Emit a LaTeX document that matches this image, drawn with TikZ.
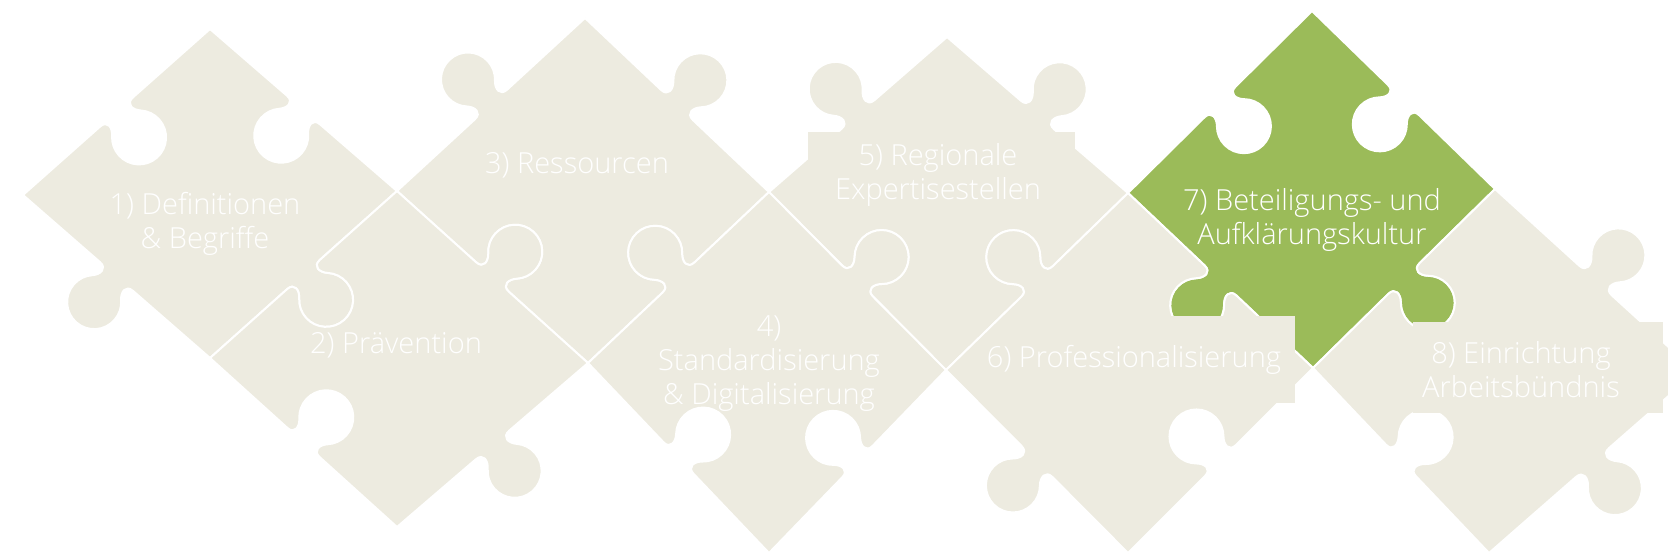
\documentclass[tikz,border=0pt]{standalone}
\usepackage{fontspec}
\IfFontExistsTF{Open Sans Light}{\setmainfont{Open Sans Light}}{\setmainfont{Open Sans}}
\usetikzlibrary{calc}
\definecolor{sand}{RGB}{237,235,224}
\definecolor{leaf}{RGB}{155,187,89}

\tikzset{
  % one puzzle edge with a round tab at its middle; #1 = 90 bulges outwards, -90 inwards
  tab/.style={to path={
    -- ($(\tikztostart)!0.5!(\tikztotarget)!-22pt!(\tikztotarget)$)
    .. controls ($(\tikztostart)!0.5!(\tikztotarget)!-12pt!(\tikztotarget)$)
       and ($(\tikztostart)!0.5!(\tikztotarget)!-13.4pt!(\tikztotarget)!9.2pt!#1:(\tikztotarget)$)
    .. ($(\tikztostart)!0.5!(\tikztotarget)!-19.1pt!(\tikztotarget)!14.9pt!#1:(\tikztotarget)$)
    .. controls ($(\tikztostart)!0.5!(\tikztotarget)!-24.2pt!(\tikztotarget)!20pt!#1:(\tikztotarget)$)
       and ($(\tikztostart)!0.5!(\tikztotarget)!-27pt!(\tikztotarget)!26.8pt!#1:(\tikztotarget)$)
    .. ($(\tikztostart)!0.5!(\tikztotarget)!-27pt!(\tikztotarget)!34pt!#1:(\tikztotarget)$)
    .. controls ($(\tikztostart)!0.5!(\tikztotarget)!-27pt!(\tikztotarget)!48.9pt!#1:(\tikztotarget)$)
       and ($(\tikztostart)!0.5!(\tikztotarget)!-14.9pt!(\tikztotarget)!61pt!#1:(\tikztotarget)$)
    .. ($(\tikztostart)!0.5!(\tikztotarget)!0pt!(\tikztotarget)!61pt!#1:(\tikztotarget)$)
    .. controls ($(\tikztostart)!0.5!(\tikztotarget)!14.9pt!(\tikztotarget)!61pt!#1:(\tikztotarget)$)
       and ($(\tikztostart)!0.5!(\tikztotarget)!27pt!(\tikztotarget)!48.9pt!#1:(\tikztotarget)$)
    .. ($(\tikztostart)!0.5!(\tikztotarget)!27pt!(\tikztotarget)!34pt!#1:(\tikztotarget)$)
    .. controls ($(\tikztostart)!0.5!(\tikztotarget)!27pt!(\tikztotarget)!26.8pt!#1:(\tikztotarget)$)
       and ($(\tikztostart)!0.5!(\tikztotarget)!24.2pt!(\tikztotarget)!20pt!#1:(\tikztotarget)$)
    .. ($(\tikztostart)!0.5!(\tikztotarget)!19.1pt!(\tikztotarget)!14.9pt!#1:(\tikztotarget)$)
    .. controls ($(\tikztostart)!0.5!(\tikztotarget)!13.4pt!(\tikztotarget)!9.2pt!#1:(\tikztotarget)$)
       and ($(\tikztostart)!0.5!(\tikztotarget)!12pt!(\tikztotarget)$)
    .. ($(\tikztostart)!0.5!(\tikztotarget)!22pt!(\tikztotarget)$)
    -- (\tikztotarget)}},
  knob/.style={tab=90},
  hole/.style={tab=-90},
  piece/.style={fill=sand, draw=white, line width=2pt, line join=round},
  greenpiece/.style={piece, fill=leaf},
  patch/.style={fill=sand, draw=none},
  lbl/.style={text=white, align=center, inner sep=0pt,
    font=\fontsize{29}{34}\selectfont},
}

\begin{document}
\begin{tikzpicture}[x=1pt, y=-1pt]
\useasboundingbox (0,0) rectangle (1668,556);
\clip (0,0) rectangle (1668,556);

% corner points shared by neighbouring pieces
\coordinate (v1) at (23,195);
\coordinate (t1) at (210,29);
\coordinate (v2) at (397,191);
\coordinate (b1) at (210,358);
\coordinate (b2) at (397,527);
\coordinate (t3) at (585,18);
\coordinate (v3) at (588,363);
\coordinate (v4) at (769,192);
\coordinate (b4) at (769,553);
\coordinate (t5) at (947,37);
\coordinate (v5) at (946,370);
\coordinate (v6) at (1128,193);
\coordinate (b6) at (1128,553);
\coordinate (t7) at (1312,11);
\coordinate (v7) at (1313,368);
\coordinate (v8) at (1495,189);
\coordinate (r8) at (1696,372);
\coordinate (b8) at (1489,553);

% upper row
\draw[piece] (v1) to[hole] (t1) to[hole] (v2) to[knob] (b1) to[knob] (v1) -- cycle;
\draw[piece] (v2) to[knob] (t3) to[knob] (v4) to[hole] (v3) to[hole] (v2) -- cycle;
\draw[piece] (v4) to[knob] (t5) to[knob] (v6) to[hole] (v5) to[hole] (v4) -- cycle;
\fill[patch] (808,132) rectangle (1075,200);
\draw[greenpiece] (v6) to[hole] (t7) to[hole] (v8) to[knob] (v7) to[knob] (v6) -- cycle;

% lower row
\draw[piece] (b1) to[hole] (v2) to[knob] (v3) to[knob] (b2) to[hole] (b1) -- cycle;
\draw[piece] (v3) to[knob] (v4) to[knob] (v5) to[hole] (b4) to[hole] (v3) -- cycle;
\draw[piece] (v5) to[knob] (v6) to[hole] (v7) to[hole] (b6) to[knob] (v5) -- cycle;
\fill[patch] (1100,316) rectangle (1295,403);
\draw[piece] (v7) to[hole] (v8) to[knob] (r8) to[knob] (b8) to[hole] (v7) -- cycle;
\fill[patch] (1413,322) rectangle (1663,413);

% labels
\node[lbl] (n1) at (205,224) {1) Definitionen\\\& Begriffe};
\node[lbl] (n2) at (396,345) {2) Prävention};
\node[lbl] (n3) at (577,165) {3) Ressourcen};
\node[lbl] (n4) at (769,364) {4)\\Standardisierung\\\& Digitalisierung};
\node[lbl] (n5) at (938,175) {5) Regionale\\Expertisestellen};
\node[lbl] (n6) at (1134,360) {6) Professionalisierung};
\node[lbl] (n7) at (1312,220) {7) Beteiligungs- und\\Aufklärungskultur};
\node[lbl] (n8) at (1521,370) {8) Einrichtung\\Arbeitsbündnis};
\end{tikzpicture}
\end{document}
